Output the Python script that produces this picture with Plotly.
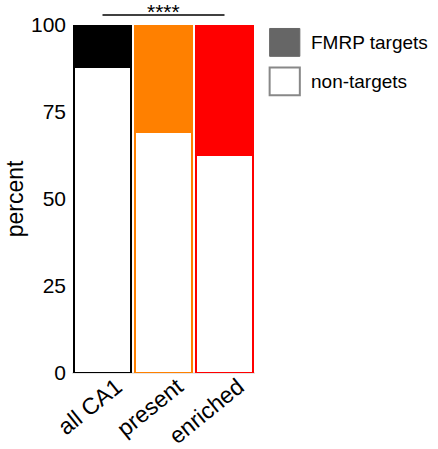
import plotly.graph_objects as go

categories = ["all CA1", "present", "enriched"]
non_targets = [88, 69.3, 62.6]
fmrp_targets = [12, 30.7, 37.4]
bar_colors = ["#000000", "#ff8000", "#ff0000"]
y_ticks = [0, 25, 50, 75, 100]
sig_label = "****"

font = "Liberation Sans, Arial, sans-serif"

fig = go.Figure()
fig.add_trace(go.Bar(
    x=categories, y=non_targets, name="non-targets",
    marker=dict(color="white", line=dict(color=bar_colors, width=2)),
    showlegend=False,
))
fig.add_trace(go.Bar(
    x=categories, y=fmrp_targets, name="FMRP targets",
    marker=dict(color=bar_colors, line=dict(color=bar_colors, width=2)),
    showlegend=False,
))

fig.update_layout(
    barmode="stack",
    bargap=0.07,
    width=438, height=449,
    margin=dict(l=72, r=183, t=25, b=76),
    paper_bgcolor="white", plot_bgcolor="white",
    font=dict(family=font, size=21, color="black"),
    xaxis=dict(showline=False, ticks="", tickangle=-39, tickfont=dict(size=23),
               ticklabelshift=14, ticklabelstandoff=-5, automargin=False),
    yaxis=dict(range=[0, 100], tickvals=y_ticks, showgrid=False, showline=False,
               ticks="", zeroline=True, zerolinecolor="#e6e6e6", zerolinewidth=2,
               ticklabelstandoff=5,
               title=dict(text="percent", font=dict(size=23), standoff=0),
               tickfont=dict(size=21), automargin=False),
)

# significance bracket
fig.add_shape(type="line", xref="x", yref="paper", x0=categories[0], x1=categories[2],
              y0=1.029, y1=1.029, line=dict(color="black", width=1.5))
fig.add_annotation(x=categories[1], xref="x", y=1 + 25 / 348, yref="paper", text=sig_label,
                   showarrow=False, xanchor="center", yanchor="top", yshift=2,
                   font=dict(size=21))

# custom legend
lx0, lx1 = 1.08, 1.245
fig.add_shape(type="rect", xref="paper", yref="paper", x0=lx0, x1=lx1, y0=0.91, y1=0.99,
              fillcolor="#666666", line=dict(color="#666666", width=1))
fig.add_shape(type="rect", xref="paper", yref="paper", x0=lx0, x1=lx1, y0=0.798, y1=0.878,
              fillcolor="white", line=dict(color="#888888", width=2))
fig.add_annotation(x=1.295, xref="paper", y=0.95, yref="paper", text="FMRP targets",
                   showarrow=False, xanchor="left", yanchor="middle", font=dict(size=19))
fig.add_annotation(x=1.295, xref="paper", y=0.838, yref="paper", text="non-targets",
                   showarrow=False, xanchor="left", yanchor="middle", font=dict(size=19))

fig.write_html("out.html", config={"displayModeBar": False},
               post_script="document.body.style.margin='0px';")
